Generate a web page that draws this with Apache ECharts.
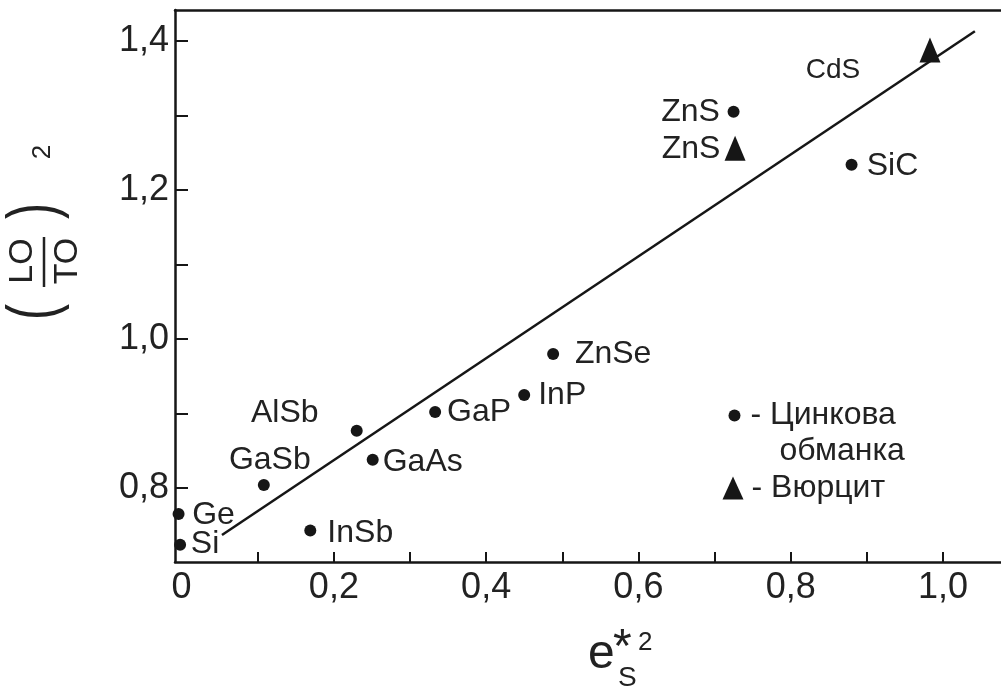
<!DOCTYPE html>
<html><head><meta charset="utf-8">
<script src="https://cdn.jsdelivr.net/npm/echarts@6/dist/echarts.min.js"></script>
<style>html,body{margin:0;padding:0;background:#fff}#c{width:1001px;height:691px}</style>
</head><body><div id="c"></div>
<script>
// ---- data ----
const zbNames = ['Ge', 'Si', 'GaSb', 'AlSb', 'GaAs', 'InSb', 'GaP', 'InP', 'ZnSe', 'ZnS', 'SiC'];
const zbX = [-0.004, -0.002, 0.108, 0.230, 0.251, 0.169, 0.333, 0.450, 0.488, 0.725, 0.880];
const zbY = [0.765, 0.724, 0.804, 0.877, 0.838, 0.743, 0.902, 0.925, 0.980, 1.305, 1.234];
const wzNames = ['ZnS', 'CdS'];
const wzX = [0.727, 0.983];
const wzY = [1.256, 1.388];
const fitX = [0.053, 1.042];
const fitY = [0.737, 1.413];
const xTickValues = [0.1, 0.2, 0.3, 0.4, 0.5, 0.6, 0.7, 0.8, 0.9, 1.0];
const xLabelValues = [0, 0.2, 0.4, 0.6, 0.8, 1.0];
const yTickValues = [0.8, 0.9, 1.0, 1.1, 1.2, 1.3, 1.4];
const yLabelValues = [0.8, 1.0, 1.2, 1.4];
const legendZb = 'Цинкова обманка';
const legendWz = 'Вюрцит';

// ---- presentation ----
const FONT = "'Liberation Sans', Arial, Helvetica, sans-serif";
const INK = '#161616';
const TXT = '#222222';
const zbLabelOffset = {Ge:[35,1], Si:[25,0], GaSb:[6,-25], AlSb:[-72,-17], GaAs:[50,2], InSb:[50,3],
  GaP:[44,0], InP:[38,0], ZnSe:[60,0], ZnS:[-43,0], SiC:[41,2]};
const wzLabelOffset = {ZnS:[-44,1], CdS:[-97,20]};
const wzLabelSize = {ZnS:32, CdS:28};
const comma = v => (Math.abs(v) < 1e-9 ? '0' : v.toFixed(1).replace('.', ','));

const chart = echarts.init(document.getElementById('c'), null, {renderer: 'canvas'});

const zbData = zbNames.map((n, i) => ({
  name: n, value: [zbX[i], zbY[i]],
  label: {offset: zbLabelOffset[n]}
}));
const wzData = wzNames.map((n, i) => ({
  name: n, value: [wzX[i], wzY[i]],
  label: {offset: wzLabelOffset[n], fontSize: wzLabelSize[n]}
}));

const xMin = -0.0087, xMax = 1.0763, yMin = 0.7007, yMax = 1.4416;

const baseLabel = {
  show: true, position: 'inside', formatter: '{b}', color: TXT, fontSize: 32,
  fontFamily: FONT, textBorderWidth: 0, align: 'center', verticalAlign: 'middle'
};

chart.setOption({
  animation: false,
  backgroundColor: '#ffffff',
  grid: {left: 175, right: 0, top: 10, bottom: 129, containLabel: false},
  xAxis: [{
    type: 'value', min: xMin, max: xMax, position: 'bottom',
    axisLine: {show: true, onZero: false, lineStyle: {color: INK, width: 2.5}},
    axisTick: {show: true, inside: true, length: 10, customValues: xTickValues, lineStyle: {color: INK, width: 2}},
    axisLabel: {show: true, customValues: xLabelValues, formatter: comma, color: TXT, fontSize: 36, fontFamily: FONT, margin: 8},
    splitLine: {show: false}
  }, {
    type: 'value', min: xMin, max: xMax, position: 'top',
    axisLine: {show: true, onZero: false, lineStyle: {color: INK, width: 2.5}},
    axisTick: {show: false}, axisLabel: {show: false}, splitLine: {show: false}
  }],
  yAxis: {
    type: 'value', min: yMin, max: yMax,
    axisLine: {show: true, onZero: false, lineStyle: {color: INK, width: 2.5}},
    axisTick: {show: true, inside: true, length: 13, customValues: yTickValues, lineStyle: {color: INK, width: 2}},
    axisLabel: {show: true, customValues: yLabelValues, formatter: comma, color: TXT, fontSize: 36, fontFamily: FONT, margin: 6},
    splitLine: {show: false}
  },
  legend: [{
    data: [legendZb], left: 728.5, top: 363.5, padding: 0, orient: 'vertical',
    icon: 'circle', itemWidth: 12, itemHeight: 12, selectedMode: false,
    formatter: () => '{s| }\n{t|- Цинкова}\n{u|обманка}',
    textStyle: {color: TXT, fontFamily: FONT, fontSize: 32, rich: {
      s: {lineHeight: 36, fontSize: 32, fontFamily: FONT},
      t: {lineHeight: 36, fontSize: 32, fontFamily: FONT, color: TXT, padding: [0, 0, 0, 5]},
      u: {lineHeight: 36, fontSize: 32, fontFamily: FONT, color: TXT, padding: [0, 0, 0, 34]}
    }}
  }, {
    data: [legendWz], left: 722.5, top: 472, padding: 0, orient: 'vertical',
    icon: 'triangle', itemWidth: 21, itemHeight: 23, selectedMode: false,
    formatter: () => '{t|- Вюрцит}',
    textStyle: {color: TXT, fontFamily: FONT, fontSize: 32, rich: {
      t: {lineHeight: 36, fontSize: 32, fontFamily: FONT, color: TXT, padding: [0, 0, 0, 3]}
    }}
  }],
  series: [{
    name: 'fit', type: 'line', data: fitX.map((x, i) => [x, fitY[i]]),
    symbol: 'none', showSymbol: false, silent: true, z: 1,
    lineStyle: {color: INK, width: 2.5}
  }, {
    name: legendZb, type: 'scatter', data: zbData, symbol: 'circle', symbolSize: 12, z: 3,
    itemStyle: {color: INK, opacity: 1}, label: baseLabel
  }, {
    name: legendWz, type: 'scatter', data: wzData, symbol: 'triangle', symbolSize: [21, 25], z: 3,
    itemStyle: {color: INK, opacity: 1}, label: baseLabel
  }],
  graphic: [{
    type: 'group', x: 44, y: 262, rotation: Math.PI / 2, silent: true,
    children: [
      {type: 'line', shape: {x1: -25, y1: 0, x2: 25, y2: 0}, style: {stroke: TXT, lineWidth: 2.5}},
      {type: 'text', x: 1, y: -21, style: {text: 'LO', fontSize: 34, fontFamily: FONT, fill: TXT, align: 'center', verticalAlign: 'middle'}},
      {type: 'text', x: 1, y: 24, style: {text: 'TO', fontSize: 34, fontFamily: FONT, fill: TXT, align: 'center', verticalAlign: 'middle'}},
      {type: 'text', x: -50, y: -8, scaleY: 1.42, style: {text: '(', fontSize: 48, fontFamily: FONT, fill: TXT, align: 'center', verticalAlign: 'middle'}},
      {type: 'text', x: 51, y: -8, scaleY: 1.42, style: {text: ')', fontSize: 48, fontFamily: FONT, fill: TXT, align: 'center', verticalAlign: 'middle'}},
      {type: 'text', x: 110, y: -1, style: {text: '2', fontSize: 26, fontFamily: FONT, fill: TXT, align: 'center', verticalAlign: 'middle'}}
    ]
  }, {
    type: 'text', x: 588, y: 655, silent: true,
    style: {text: 'e', fontSize: 48, fontFamily: FONT, fill: TXT, align: 'left', verticalAlign: 'middle'}
  }, {
    type: 'text', x: 613, y: 649, silent: true,
    style: {text: '*', fontSize: 48, fontFamily: FONT, fill: TXT, align: 'left', verticalAlign: 'middle'}
  }, {
    type: 'text', x: 638, y: 643, silent: true,
    style: {text: '2', fontSize: 26, fontFamily: FONT, fill: TXT, align: 'left', verticalAlign: 'middle'}
  }, {
    type: 'text', x: 618, y: 678, silent: true,
    style: {text: 'S', fontSize: 28, fontFamily: FONT, fill: TXT, align: 'left', verticalAlign: 'middle'}
  }]
});
</script>
</body></html>
